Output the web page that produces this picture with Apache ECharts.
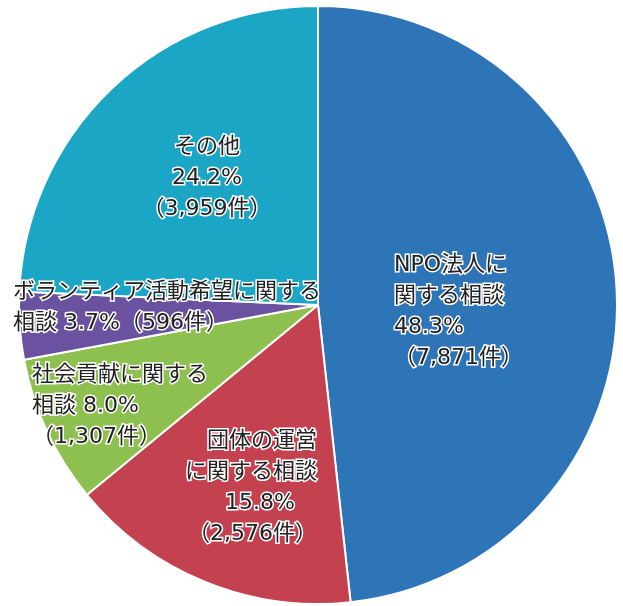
<!DOCTYPE html>
<html>
<head>
<meta charset="utf-8">
<script src="https://cdn.jsdelivr.net/npm/echarts@6/dist/echarts.min.js"></script>
<style>
  html, body { margin: 0; padding: 0; background: #fff; }
  #chart { width: 623px; height: 606px; }
</style>
</head>
<body>
<div id="chart"></div>
<script>
// 相談内容の内訳
var names = ['NPO法人に関する相談', '団体の運営に関する相談', '社会貢献に関する相談', 'ボランティア活動希望に関する相談', 'その他'];
var counts = [7871, 2576, 1307, 596, 3959];
var percents = [48.3, 15.8, 8.0, 3.7, 24.2];
// ラベルの改行パターン ({p}=割合, {c}=件数)
var labelTemplates = [
  'NPO法人に\n関する相談\n{p}%\n（{c}件）',
  '団体の運営\nに関する相談\n{p}%　\n（{c}件）',
  '社会貢献に関する\n相談 {p}%\n（{c}件）',
  'ボランティア活動希望に関する\n相談 {p}%（{c}件）',
  'その他\n{p}%\n（{c}件）'
];

(function() {
  var myChart = echarts.init(document.getElementById('chart'));
  var colors = ['#2e75b8', '#c4414f', '#8dc04e', '#6b52a0', '#1ba6c6'];
  // ラベル位置 [x, y, align]
  var labelPos = [
    [394, 312, 'left'],
    [317, 488, 'right'],
    [32, 406, 'left'],
    [13, 308, 'left'],
    [207, 178, 'center']
  ];
  var data = [];
  for (var i = 0; i < names.length; i++) {
    data.push({ name: names[i], value: counts[i] });
  }
  var option = {
    color: colors,
    animation: false,
    series: [
      {
        type: 'pie',
        center: [318, 305],
        radius: [0, 299],
        startAngle: 90,
        clockwise: true,
        itemStyle: {
          borderColor: '#fff',
          borderWidth: 2
        },
        label: {
          show: true,
          position: 'inside',
          fontFamily: '"DejaVu Sans", "Noto Sans CJK JP", sans-serif',
          fontSize: 22,
          lineHeight: 31,
          color: '#222',
          textBorderColor: '#fff',
          textBorderWidth: 3,
          formatter: function(params) {
            var i = params.dataIndex;
            return labelTemplates[i]
              .replace('{p}', percents[i].toFixed(1))
              .replace('{c}', counts[i].toLocaleString('en-US'));
          }
        },
        labelLine: { show: false },
        labelLayout: function(params) {
          var p = labelPos[params.dataIndex];
          return { x: p[0], y: p[1], align: p[2], verticalAlign: 'middle' };
        },
        emphasis: { disabled: true },
        data: data
      }
    ]
  };
  myChart.setOption(option);
})();
</script>
</body>
</html>
